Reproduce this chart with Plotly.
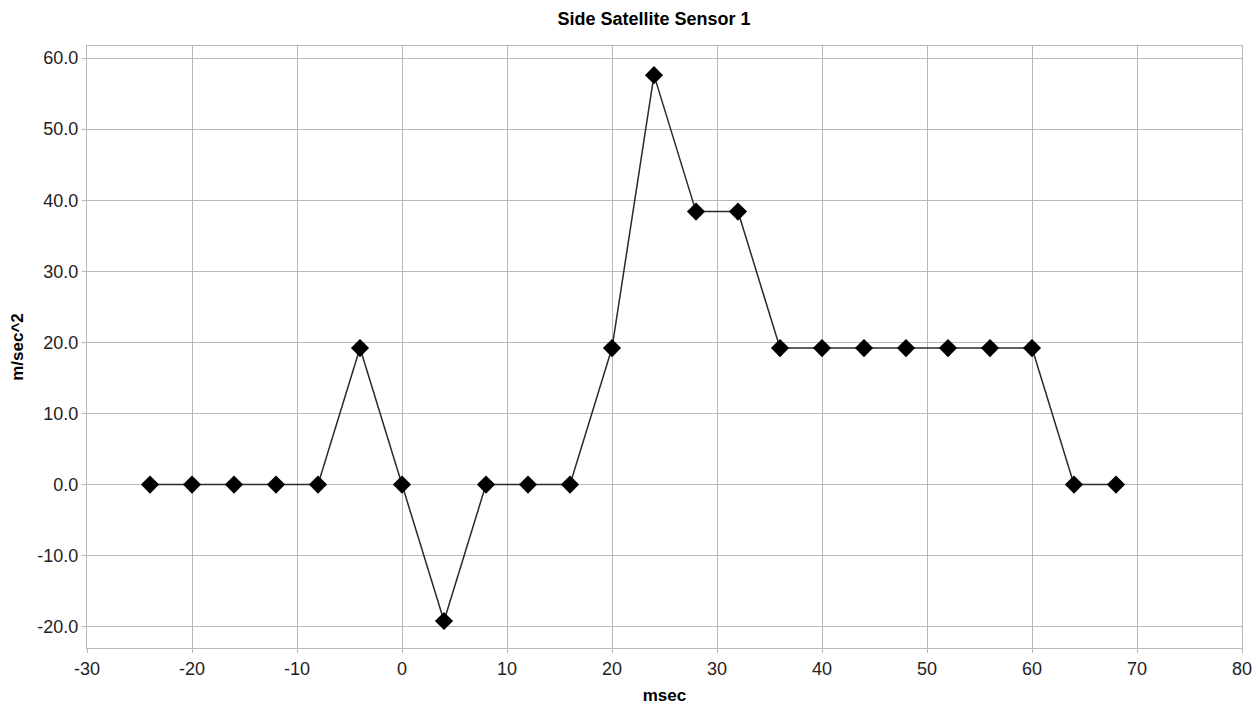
import plotly.graph_objects as go

msec = [-24, -20, -16, -12, -8, -4, 0, 4, 8, 12, 16, 20, 24, 28, 32, 36, 40, 44, 48, 52, 56, 60, 64, 68]
accel = [0.0, 0.0, 0.0, 0.0, 0.0, 19.2, 0.0, -19.2, 0.0, 0.0, 0.0, 19.2, 57.6, 38.4, 38.4,
         19.2, 19.2, 19.2, 19.2, 19.2, 19.2, 19.2, 0.0, 0.0]

x_ticks = [-30, -20, -10, 0, 10, 20, 30, 40, 50, 60, 70, 80]
x_labels = ["-30", "-20", "-10", "0", "10", "20", "30", "40", "50", "60", "70", "80"]
y_ticks = [-20, -10, 0, 10, 20, 30, 40, 50, 60]
y_labels = ["-20.0", "-10.0", "0.0", "10.0", "20.0", "30.0", "40.0", "50.0", "60.0"]

fig = go.Figure()
fig.add_trace(go.Scatter(
    x=msec, y=accel, mode="lines+markers",
    line=dict(color="#2a2a2a", width=1.5),
    marker=dict(symbol="diamond", size=14, color="black"),
    showlegend=False,
))

grid = "#b8b8b8"
fig.update_layout(
    width=1260, height=707,
    margin=dict(l=87, r=18, t=46, b=59),
    paper_bgcolor="white", plot_bgcolor="white",
    font=dict(family="Liberation Sans, Arial, sans-serif", color="#222222"),
    title=dict(text="<b>Side Satellite Sensor 1</b>", x=0.519, xanchor="center",
               xref="container", y=0.974, yanchor="middle",
               font=dict(size=18, color="black")),
    xaxis=dict(range=[-30, 80], tickvals=x_ticks, ticktext=x_labels,
               showgrid=True, gridcolor=grid, gridwidth=1.3,
               showline=True, linecolor=grid, linewidth=1.3, mirror=True,
               ticks="outside", ticklen=4, tickcolor=grid, tickwidth=1.3,
               zeroline=False, tickfont=dict(size=18), automargin=False,
               title=dict(text="<b>msec</b>", font=dict(size=17, color="black"), standoff=11)),
    yaxis=dict(range=[-23.0, 61.7], tickvals=y_ticks, ticktext=y_labels,
               showgrid=True, gridcolor=grid, gridwidth=1.3,
               showline=True, linecolor=grid, linewidth=1.3, mirror=True,
               ticks="outside", ticklen=4, tickcolor=grid, tickwidth=1.3,
               zeroline=False, tickfont=dict(size=18), automargin=False,
               title=dict(text="<b>m/sec^2</b>", font=dict(size=17, color="black"), standoff=9)),
)

fig.write_html("out.html")
